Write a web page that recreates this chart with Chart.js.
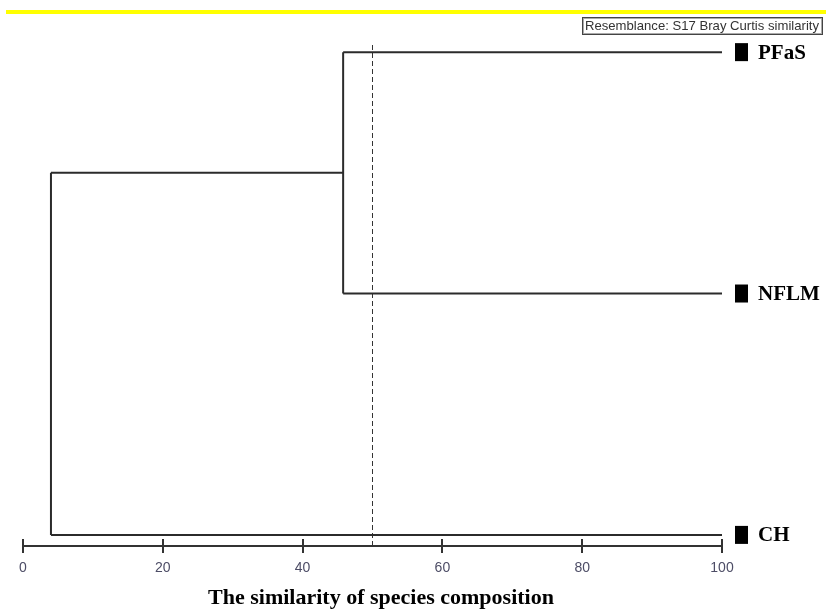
<!DOCTYPE html>
<html>
<head>
<meta charset="utf-8">
<title>Dendrogram - Bray Curtis similarity</title>
<script src="https://cdn.jsdelivr.net/npm/chart.js@4.4.1/dist/chart.umd.min.js"></script>
<style>
  html, body { margin: 0; padding: 0; background: #fff; }
  canvas { display: block; }
</style>
</head>
<body>
<canvas id="dendro" width="826" height="609"></canvas>
<script>
// Dendrogram: similarity of species composition

const leaves = ['PFaS', 'NFLM', 'CH'];      // top to bottom
const leafPos = [2, 1, 0];                  // y position of each leaf
const mergeA = [0, 'm0'];                   // what each merge joins
const mergeB = [1, 2];
const mergeLevel = [45.8, 4.0];             // similarity (%) at each merge
const cutLevel = 50;                        // dashed slice line
const xTicks = [0, 20, 40, 60, 80, 100];
const resemblance = 'Resemblance: S17 Bray Curtis similarity';
const xTitle = 'The similarity of species composition';

const lineColor = '#2b2b2b';

// build the dendrogram segments from the merges
function buildSegments() {
    const segs = [];
    const nodes = {};
    leaves.forEach((name, i) => { nodes[i] = { x: 100, y: leafPos[i] }; });
    mergeLevel.forEach((lvl, k) => {
        const a = nodes[mergeA[k]];
        const b = nodes[mergeB[k]];
        segs.push([{ x: a.x, y: a.y }, { x: lvl, y: a.y }]);
        segs.push([{ x: b.x, y: b.y }, { x: lvl, y: b.y }]);
        segs.push([{ x: lvl, y: a.y }, { x: lvl, y: b.y }]);
        nodes['m' + k] = { x: lvl, y: (a.y + b.y) / 2 };
    });
    return segs;
}

const datasets = buildSegments().map(seg => ({
    data: seg,
    borderColor: lineColor,
    borderWidth: 2,
    pointRadius: 0,
    showLine: true,
    fill: false
}));

const yMin = -0.046;
const yMax = 2.042;

datasets.push({
    data: [{ x: cutLevel, y: yMin }, { x: cutLevel, y: yMax }],
    borderColor: '#333',
    borderWidth: 1,
    borderDash: [5, 3],
    pointRadius: 0,
    showLine: true,
    fill: false
});

const decorPlugin = {
    id: 'decor',
    beforeDraw(chart) {
        const ctx = chart.ctx;
        ctx.save();
        // yellow rule at the top
        ctx.fillStyle = '#ffff00';
        ctx.fillRect(6, 10, 820, 4);

        // resemblance box
        ctx.fillStyle = '#fff';
        ctx.fillRect(582, 17, 240, 17);
        ctx.strokeStyle = '#444';
        ctx.lineWidth = 1;
        ctx.strokeRect(582.5, 17.5, 240, 17);
        ctx.strokeStyle = '#aaa';
        ctx.strokeRect(583.5, 18.5, 238, 15);
        ctx.font = '13px "Liberation Sans Narrow", "Liberation Sans", Arial, sans-serif';
        ctx.fillStyle = '#333';
        ctx.textBaseline = 'middle';
        const w = ctx.measureText(resemblance).width;
        const s = 234 / w;
        ctx.translate(585, 26.5);
        ctx.scale(s, 1);
        ctx.fillText(resemblance, 0, 0);
        ctx.restore();
    },
    afterDraw(chart) {
        const ctx = chart.ctx;
        const xs = chart.scales.x;
        const ys = chart.scales.y;
        const axisY = chart.chartArea.bottom;
        ctx.save();
        // upper half of the tick marks
        ctx.strokeStyle = '#333';
        ctx.lineWidth = 2;
        xTicks.forEach(t => {
            const px = Math.round(xs.getPixelForValue(t));
            ctx.beginPath();
            ctx.moveTo(px, axisY - 7);
            ctx.lineTo(px, axisY);
            ctx.stroke();
        });
        // leaf markers and labels
        const endX = xs.getPixelForValue(100);
        leaves.forEach((name, i) => {
            const py = ys.getPixelForValue(leafPos[i]);
            ctx.fillStyle = '#000';
            ctx.fillRect(endX + 13, py - 9, 13, 18);
            ctx.font = 'bold 21px "Liberation Serif", "Times New Roman", serif';
            ctx.textBaseline = 'middle';
            ctx.fillText(name, endX + 36, py + 1);
        });
        // axis title, centred a little right of the axis middle as in the original
        ctx.font = 'bold 22px "Liberation Serif", "Times New Roman", serif';
        ctx.textAlign = 'center';
        ctx.textBaseline = 'middle';
        ctx.fillText(xTitle, 381, 598);
        ctx.restore();
    }
};

Chart.defaults.font.family = '"Liberation Sans", Arial, sans-serif';

new Chart(document.getElementById('dendro'), {
    type: 'scatter',
    data: { datasets: datasets },
    options: {
        responsive: false,
        animation: false,
        devicePixelRatio: 1,
        layout: { padding: { left: 23, right: 104, top: 42, bottom: 0 } },
        plugins: {
            legend: { display: false },
            tooltip: { enabled: false }
        },
        scales: {
            x: {
                type: 'linear',
                min: 0,
                max: 100,
                afterBuildTicks(scale) {
                    scale.ticks = xTicks.map(v => ({ value: v }));
                },
                afterFit(scale) {
                    scale.height = 63;
                },
                border: { display: true, color: '#333', width: 2 },
                grid: {
                    drawOnChartArea: false,
                    drawTicks: true,
                    tickLength: 7,
                    color: '#333',
                    lineWidth: 2
                },
                ticks: {
                    padding: 7,
                    color: '#4d4d66',
                    font: { size: 14 },
                    maxRotation: 0
                },
                title: { display: false }
            },
            y: {
                type: 'linear',
                display: false,
                min: yMin,
                max: yMax
            }
        }
    },
    plugins: [decorPlugin]
});
</script>
</body>
</html>
